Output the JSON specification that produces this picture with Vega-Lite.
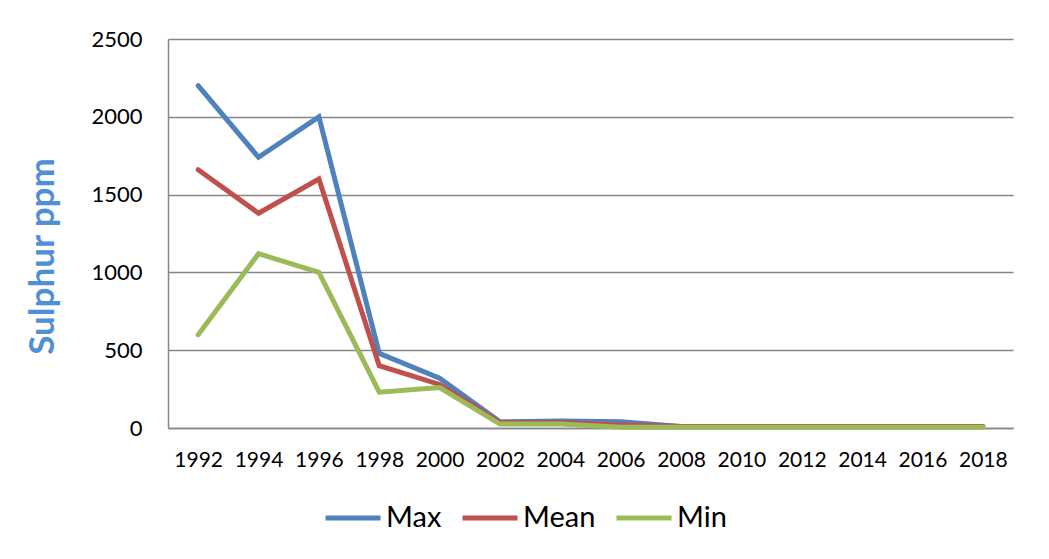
{
  "$schema": "https://vega.github.io/schema/vega-lite/v6.json",
  "autosize": {"type": "none"},
  "width": 845,
  "height": 389,
  "padding": {"left": 168, "top": 39, "right": 36, "bottom": 131},
  "background": "white",
  "config": {
    "view": {"stroke": null},
    "font": "Lato"
  },
  "data": {
    "values": [
      {"year": "1992", "series": "Max", "value": 2200},
      {"year": "1994", "series": "Max", "value": 1740},
      {"year": "1996", "series": "Max", "value": 2000},
      {"year": "1998", "series": "Max", "value": 480},
      {"year": "2000", "series": "Max", "value": 320},
      {"year": "2002", "series": "Max", "value": 40},
      {"year": "2004", "series": "Max", "value": 45},
      {"year": "2006", "series": "Max", "value": 40},
      {"year": "2008", "series": "Max", "value": 10},
      {"year": "2010", "series": "Max", "value": 10},
      {"year": "2012", "series": "Max", "value": 10},
      {"year": "2014", "series": "Max", "value": 10},
      {"year": "2016", "series": "Max", "value": 10},
      {"year": "2018", "series": "Max", "value": 10},
      {"year": "1992", "series": "Mean", "value": 1660},
      {"year": "1994", "series": "Mean", "value": 1380},
      {"year": "1996", "series": "Mean", "value": 1600},
      {"year": "1998", "series": "Mean", "value": 400},
      {"year": "2000", "series": "Mean", "value": 280},
      {"year": "2002", "series": "Mean", "value": 35},
      {"year": "2004", "series": "Mean", "value": 35},
      {"year": "2006", "series": "Mean", "value": 20},
      {"year": "2008", "series": "Mean", "value": 10},
      {"year": "2010", "series": "Mean", "value": 10},
      {"year": "2012", "series": "Mean", "value": 10},
      {"year": "2014", "series": "Mean", "value": 10},
      {"year": "2016", "series": "Mean", "value": 10},
      {"year": "2018", "series": "Mean", "value": 10},
      {"year": "1992", "series": "Min", "value": 600},
      {"year": "1994", "series": "Min", "value": 1120},
      {"year": "1996", "series": "Min", "value": 1000},
      {"year": "1998", "series": "Min", "value": 230},
      {"year": "2000", "series": "Min", "value": 260},
      {"year": "2002", "series": "Min", "value": 25},
      {"year": "2004", "series": "Min", "value": 25},
      {"year": "2006", "series": "Min", "value": 5},
      {"year": "2008", "series": "Min", "value": 5},
      {"year": "2010", "series": "Min", "value": 5},
      {"year": "2012", "series": "Min", "value": 5},
      {"year": "2014", "series": "Min", "value": 5},
      {"year": "2016", "series": "Min", "value": 5},
      {"year": "2018", "series": "Min", "value": 5}
    ]
  },
  "mark": {"type": "line", "strokeWidth": 5, "strokeCap": "round", "strokeJoin": "miter"},
  "encoding": {
    "x": {
      "field": "year",
      "type": "ordinal",
      "scale": {"padding": 0.5},
      "axis": {
        "title": null,
        "labelAngle": 0,
        "labelFontSize": 21,
        "labelColor": "black",
        "labelPadding": 21,
        "ticks": false,
        "domainColor": "#868686",
        "domainWidth": 1.5,
        "grid": false
      }
    },
    "y": {
      "field": "value",
      "type": "quantitative",
      "scale": {"domain": [0, 2500], "nice": false},
      "axis": {
        "values": [0, 500, 1000, 1500, 2000, 2500],
        "format": "d",
        "title": "Sulphur ppm",
        "titleFontSize": 35,
        "titleFontWeight": "bold",
        "titleColor": "#4F8FD9",
        "titleX": -126,
        "titleY": 217,
        "titleAngle": -90,
        "titleAlign": "center",
        "titleBaseline": "middle",
        "labelFontSize": 22,
        "labelColor": "black",
        "labelPadding": 26,
        "ticks": false,
        "domainColor": "#868686",
        "domainWidth": 1.5,
        "gridColor": "#868686",
        "gridWidth": 1.5,
        "gridOpacity": 1
      }
    },
    "color": {
      "field": "series",
      "type": "nominal",
      "scale": {"domain": ["Max", "Mean", "Min"], "range": ["#4F81BD", "#C0504D", "#9BBB59"]},
      "legend": {
        "title": null,
        "orient": "none",
        "direction": "horizontal",
        "legendX": 155,
        "legendY": 449,
        "symbolType": "stroke",
        "symbolSize": 3025,
        "symbolStrokeWidth": 5,
        "labelFontSize": 29,
        "labelColor": "black",
        "labelOffset": 3,
        "columnPadding": 10
      }
    }
  }
}
